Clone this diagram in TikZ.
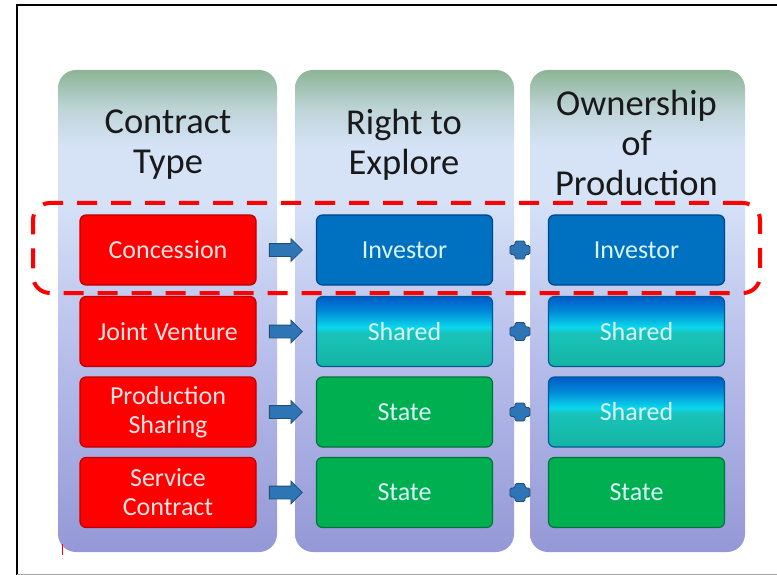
\documentclass[tikz,border=0pt]{standalone}
\usepackage{fontspec}
\setmainfont{Carlito}
\usetikzlibrary{shapes.arrows,calc}
\definecolor{colbot}{RGB}{148,152,214}
\definecolor{colmid}{RGB}{186,193,236}
\definecolor{collight}{RGB}{214,227,247}
\definecolor{colgreyb}{RGB}{190,212,215}
\definecolor{coltop}{RGB}{140,180,150}
\definecolor{redfill}{RGB}{255,0,0}
\definecolor{reddraw}{RGB}{190,0,0}
\definecolor{invfill}{RGB}{0,112,192}
\definecolor{invdraw}{RGB}{0,70,140}
\definecolor{stfill}{RGB}{0,176,80}
\definecolor{stdraw}{RGB}{0,115,60}
\definecolor{shtop}{RGB}{0,90,200}
\definecolor{shup}{RGB}{0,135,215}
\definecolor{shmid}{RGB}{10,215,235}
\definecolor{shlow}{RGB}{25,195,185}
\definecolor{shbot}{RGB}{20,180,162}
\definecolor{shdraw}{RGB}{0,90,150}
\definecolor{arrfill}{RGB}{46,117,182}
\definecolor{arrdraw}{RGB}{31,78,121}
\definecolor{boxtext}{RGB}{215,245,250}
\definecolor{hltred}{RGB}{255,0,0}
\pgfdeclareverticalshading{colsh}{100bp}{color(0bp)=(colbot); color(25bp)=(colbot); color(47bp)=(colmid); color(62bp)=(collight); color(67bp)=(collight); color(71bp)=(colgreyb); color(75bp)=(coltop); color(100bp)=(coltop)}
\pgfdeclareverticalshading{shsh}{100bp}{color(0bp)=(shbot); color(25bp)=(shbot); color(49bp)=(shlow); color(53bp)=(shmid); color(65bp)=(shup); color(75bp)=(shtop); color(100bp)=(shtop)}
\tikzset{
  colbox/.style={shading=colsh, rounded corners=18pt, minimum width=219pt, minimum height=482pt, inner sep=0pt},
  cbox/.style={rounded corners=6pt, minimum width=176pt, minimum height=70pt, inner sep=2pt, align=center, line width=1.2pt, font=\fontsize{26}{29}\selectfont, text=boxtext},
  redbox/.style={cbox, fill=redfill, draw=reddraw, text={rgb,255:red,255;green,228;blue,228}},
  invbox/.style={cbox, fill=invfill, draw=invdraw},
  shbox/.style={cbox, shading=shsh, draw=shdraw},
  stbox/.style={cbox, fill=stfill, draw=stdraw},
  head/.style={align=center, font=\fontsize{36.5}{40}\selectfont, text={rgb,255:red,25;green,25;blue,25}},
  blockarrow/.style={single arrow, fill=arrfill, draw=arrdraw, line width=0.8pt, minimum height=33pt, inner xsep=0pt, inner ysep=6pt, single arrow head extend=5pt},
  plusmark/.style={fill=arrfill, draw=arrdraw, line width=0.8pt, rounded corners=1.5pt},
  hlbox/.style={draw=hltred, line width=4pt, dash pattern=on 20pt off 14pt, rounded corners=17pt, minimum width=727pt, minimum height=90pt, inner sep=0pt}
}
\begin{document}
\begin{tikzpicture}[x=1pt,y=-1pt]
\useasboundingbox (0,0) rectangle (777,575);
\fill[white] (0,0) rectangle (777,575);
% frame
\draw[black, line width=2.5pt] (17,575) -- (17,5) -- (777,5);
\draw[black!35, line width=1pt] (17,574) -- (777,574);
% columns
\node[colbox] (c1) at (167.5,311) {};
\node[colbox] (c2) at (404.5,311) {};
\node[colbox, minimum width=215pt] (c3) at (637.5,311) {};
% headers
\node[head] (h1) at (168,145) {Contract\\Type};
\node[head] (h2) at (404,145) {Right to\\Explore};
\node[head] (h3) at (636.5,143) {Ownership\\of\\Production};
% row 1
\node[redbox] (r1) at (168,250) {Concession};
\node[invbox] (e1) at (404.5,250) {Investor};
\node[invbox] (o1) at (636.5,250) {Investor};
% row 2
\node[redbox] (r2) at (168,331.5) {Joint Venture};
\node[shbox] (e2) at (404.5,331.5) {Shared};
\node[shbox] (o2) at (636.5,331.5) {Shared};
% row 3
\node[redbox] (r3) at (168,412) {Production\\Sharing};
\node[stbox] (e3) at (404.5,412) {State};
\node[shbox] (o3) at (636.5,412) {Shared};
% row 4
\node[redbox] (r4) at (168,492.5) {Service\\Contract};
\node[stbox] (e4) at (404.5,492.5) {State};
\node[stbox] (o4) at (636.5,492.5) {State};
% arrows
\foreach \i in {1,2,3,4}{
  \node[blockarrow] (a\i) at ($(r\i.east)!0.44!(e\i.west)$) {};
  \coordinate (p\i) at ($(e\i.east)!0.49!(o\i.west)$);
  \draw[plusmark] (p\i) ++(-5,-9) -- ++(10,0) -- ++(0,4.5) -- ++(5,0) -- ++(0,9) -- ++(-5,0) -- ++(0,4.5) -- ++(-10,0) -- ++(0,-4.5) -- ++(-5,0) -- ++(0,-9) -- ++(5,0) -- cycle;
}
% highlight
\node[hlbox] (hl) at (396.5,248) {};
% small mark
\draw[red, line width=0.8pt] (62,544) -- (62,555);
\end{tikzpicture}
\end{document}
